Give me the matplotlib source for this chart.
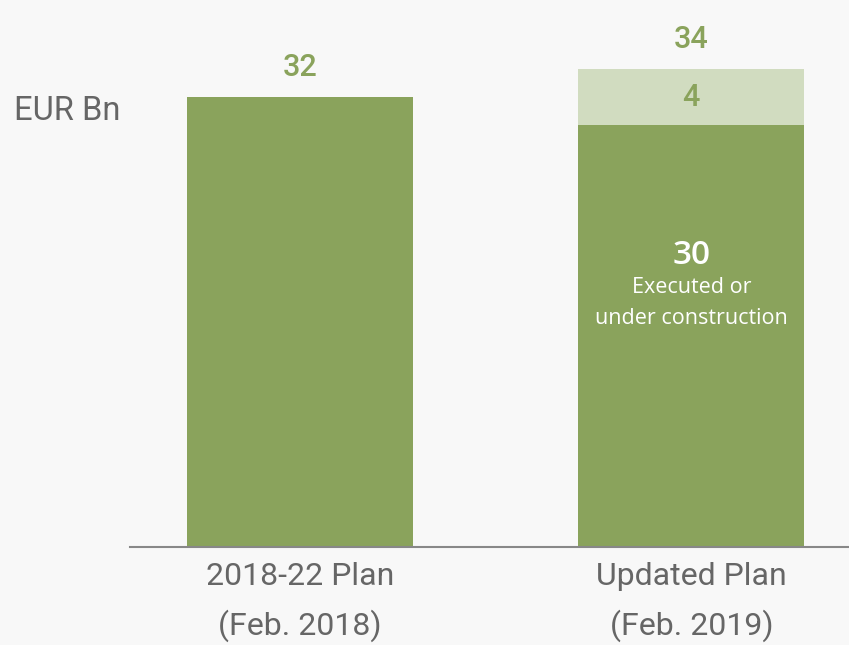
import matplotlib.pyplot as plt

# data
categories = ['2018-22 Plan\n(Feb. 2018)', 'Updated Plan\n(Feb. 2019)']
executed = [32, 30]
extra = [0, 4]
totals = [32, 34]

green = '#8aa35c'
light = '#d1dcc0'
grey = '#666666'
bg = '#f8f8f8'

narrow = ['Roboto', 'DejaVu Sans']
plain = ['Open Sans', 'DejaVu Sans']

fig = plt.figure(figsize=(8.49, 6.45), dpi=100, facecolor=bg)
ax = fig.add_axes([130/849, 98/645, 719/849, 547/645])
ax.set_facecolor(bg)

x = [0, 1]
w = 0.577
ax.bar(x, executed, width=w, color=green, zorder=2)
ax.bar(x, extra, bottom=executed, width=w, color=light, zorder=2)

ax.set_xlim(-0.434, 1.403)
ax.set_ylim(0, 38.9)

for s in ['top', 'right', 'left']:
    ax.spines[s].set_visible(False)
ax.spines['bottom'].set_color('#888888')
ax.spines['bottom'].set_linewidth(1.5)
ax.set_yticks([])
ax.set_xticks(x)
ax.set_xticklabels(categories, fontsize=23, color=grey, family=narrow, linespacing=1.7)
ax.tick_params(axis='x', length=0, pad=11)

# totals above bars
for i, t in enumerate(totals):
    ax.annotate(str(t), (x[i], t), xytext=(0, 21.5), textcoords='offset points',
                ha='center', va='center', fontsize=22, color=green, family=narrow,
                fontweight='medium')

# segment labels
i = 1
ax.text(x[i], executed[i] + extra[i] / 2, str(extra[i]), ha='center', va='center',
        fontsize=22, color=green, family=narrow, fontweight='medium')
ax.annotate(str(executed[i]), (x[i], executed[i]), xytext=(0, -94),
            textcoords='offset points', ha='center', va='center',
            fontsize=24, color='white', family=plain, fontweight='semibold')
ax.annotate('Executed or\nunder construction', (x[i], executed[i]), xytext=(0, -128),
            textcoords='offset points', ha='center', va='center',
            fontsize=15.5, color='white', family=plain, linespacing=1.65)

fig.text(14/849, 1 - 111/645, 'EUR Bn', ha='left', va='center', fontsize=23.5,
         color=grey, family=narrow)

fig.savefig('out.png', dpi=100, facecolor=bg)
